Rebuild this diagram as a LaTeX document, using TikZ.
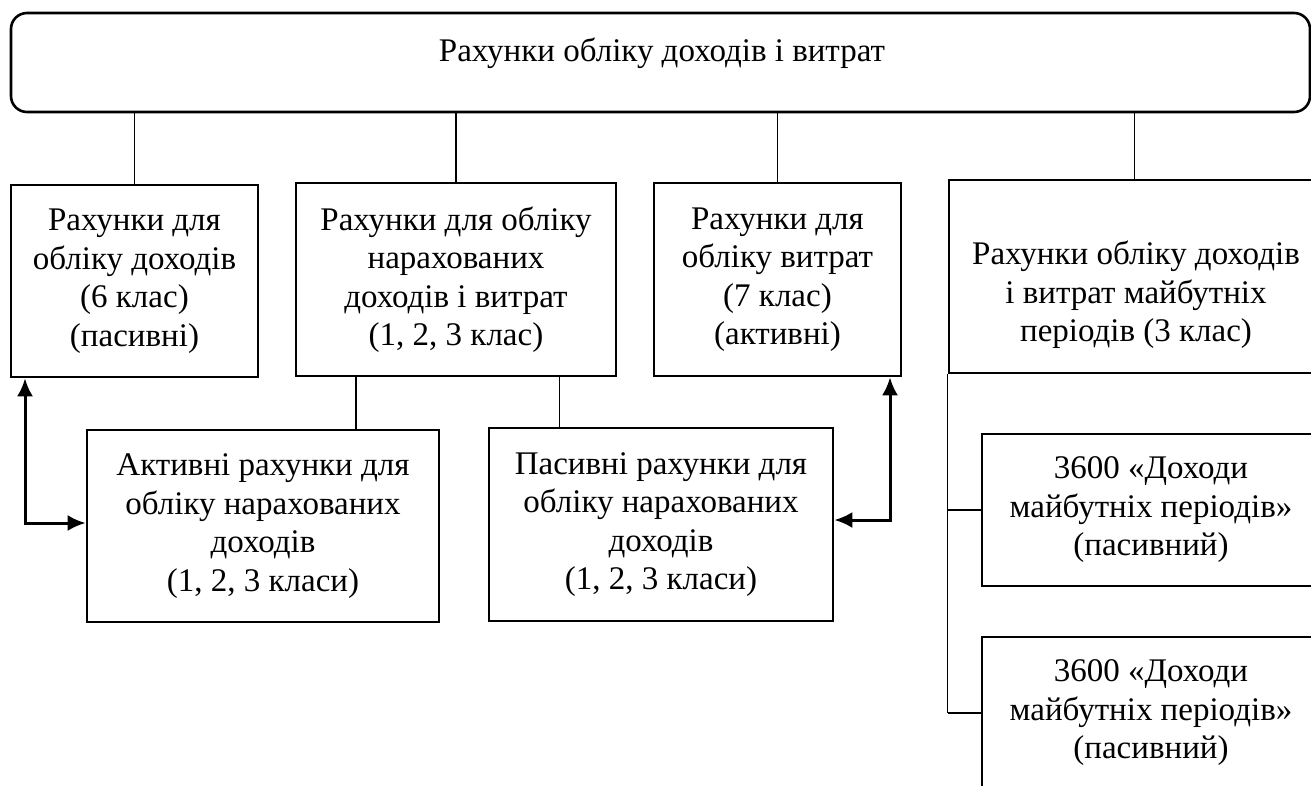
\documentclass[tikz,border=0pt]{standalone}
\usepackage{fontspec}
\setmainfont{Liberation Serif}
\usetikzlibrary{positioning,arrows.meta,calc}

\begin{document}
\begin{tikzpicture}[x=1pt,y=-1pt,>=Latex,
    txt/.style={align=center,inner sep=0pt,font=\fontsize{33}{38.5}\selectfont},
    box/.style={txt,draw,line width=2.6pt},
    link/.style={line width=1.3pt},
    both/.style={line width=3pt,{Latex[length=18pt,width=16pt]}-{Latex[length=18pt,width=16pt]}}]
  \useasboundingbox (0,0) rectangle (1311,785);
  \clip (0,0) rectangle (1311,785);
  % top level
  \node[box,rounded corners=16pt,minimum width=1299pt,minimum height=99pt] (top) at (660.5,62.5) {};
  \node[txt] (toptxt) at (662,53) {Рахунки обліку доходів і витрат};
  % second level
  \node[box,minimum width=247pt,minimum height=192pt] (b1) at (134.5,281)
    {Рахунки для\\обліку доходів\\(6 клас)\\(пасивні)};
  \node[box,minimum width=320pt,minimum height=193pt] (b2) at (456,279.5)
    {Рахунки для обліку\\нарахованих\\доходів і витрат\\(1, 2, 3 клас)};
  \node[box,minimum width=247pt,minimum height=193pt] (b3) at (777.5,279.5)
    {Рахунки для\\обліку витрат\\(7 клас)\\(активні)};
  \node[box,minimum width=371pt,minimum height=193pt] (b4) at (1134.5,276.5) {};
  \node[txt] (b4txt) at (1136,295)
    {Рахунки обліку доходів\\і витрат майбутніх\\періодів (3 клас)};
  \foreach \b in {b1,b2,b3,b4}
    \draw[link] (top.south -| \b.north) -- (\b.north);
  % third level
  \node[box,minimum width=352pt,minimum height=192pt] (ba) at (263,526)
    {Активні рахунки для\\обліку нарахованих\\доходів\\(1, 2, 3 класи)};
  \node[box,minimum width=344pt,minimum height=193pt] (bp) at (661,524.5)
    {Пасивні рахунки для\\обліку нарахованих\\доходів\\(1, 2, 3 класи)};
  \draw[link] ($(b2.south west)!0.19!(b2.south east)$) coordinate (m1) -- (m1 |- ba.north);
  \draw[link] ($(b2.south west)!0.82!(b2.south east)$) coordinate (m2) -- (m2 |- bp.north);
  % arrows
  \coordinate (c1) at (25,523);
  \draw[both] (b1.south -| c1) -- (c1) -- (ba.west |- c1);
  \coordinate (c2) at (890,520);
  \draw[both] (b3.south -| c2) -- (c2) -- (bp.east |- c2);
  % right column
  \foreach \r/\y in {r1/510,r2/713}
    \node[box,minimum width=338pt,minimum height=152pt] (\r) at (1151,\y)
      {3600 «Доходи\\майбутніх періодів»\\(пасивний)};
  \draw[link] (b4.south west) -- (b4.south west |- r2.west);
  \foreach \r in {r1,r2}
    \draw[link] (b4.south west |- \r.west) -- (\r.west);
\end{tikzpicture}
\end{document}
